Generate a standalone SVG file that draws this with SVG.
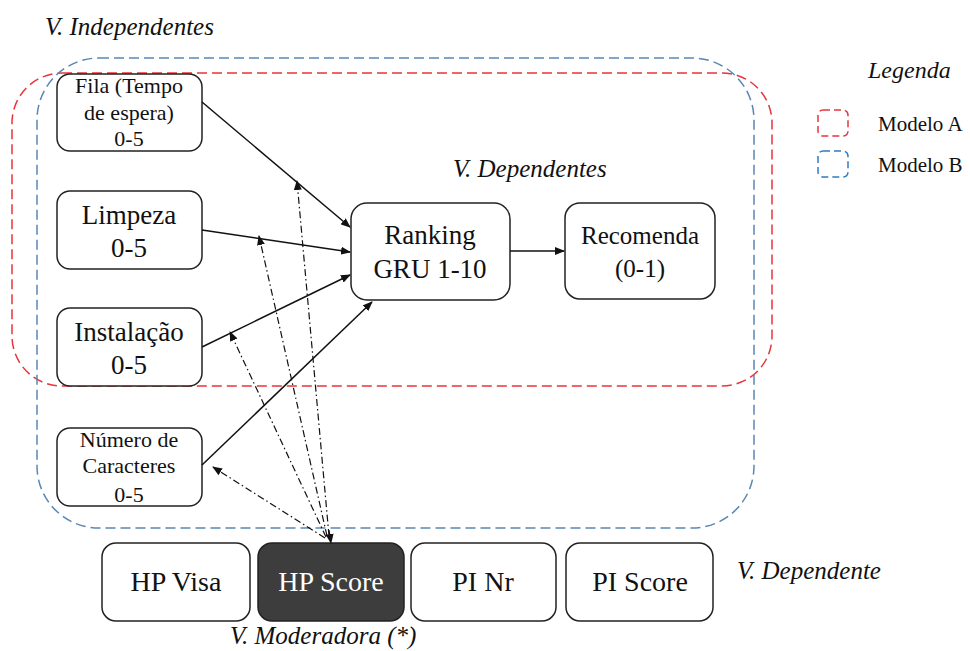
<svg xmlns="http://www.w3.org/2000/svg" width="970" height="651" viewBox="0 0 970 651">
<style>
.box{fill:#fff;stroke:#222;stroke-width:1.5}
.t{fill:#111}
.lbl{font-style:italic;fill:#111}
.solid{stroke:#111;stroke-width:1.5;fill:none}
.dd{stroke:#111;stroke-width:1.2;fill:none;stroke-dasharray:7,3,1.5,3}
.red{fill:none;stroke:#e8343a;stroke-width:1.5;stroke-dasharray:10,5}
.blue{fill:none;stroke:#5a86b4;stroke-width:1.5;stroke-dasharray:10,5}
</style>
<defs>
<marker id="ah" markerWidth="10" markerHeight="8" refX="9" refY="4" orient="auto" markerUnits="userSpaceOnUse">
<path d="M0,0 L10,4 L0,8 z" fill="#111"/>
</marker>
</defs>
<rect width="970" height="651" fill="#fff"/>
<g id="modelA"><rect class="red" x="12" y="73" width="760" height="313" rx="50"/></g>
<g id="modelB"><rect class="blue" x="37" y="58" width="717" height="470" rx="62"/></g>

<g font-family="'Liberation Serif', 'Times New Roman', serif">
<text class="lbl" x="45" y="35" font-size="25">V. Independentes</text>
<text class="lbl" x="453" y="177" font-size="25">V.  Dependentes</text>
<text class="lbl" x="737" y="579" font-size="25">V.  Dependente</text>
<text class="lbl" x="230" y="644" font-size="25">V. Moderadora (*)</text>

<g id="legend">
<text class="lbl" x="868" y="78" font-size="24">Legenda</text>
<rect class="red" x="818" y="110" width="30" height="26" rx="5" style="stroke-dasharray:7,4"/>
<rect class="blue" x="818" y="151" width="30" height="26" rx="5" style="stroke-dasharray:7,4;stroke:#2f7bc4"/>
<text class="t" x="878" y="131" font-size="21">Modelo A</text>
<text class="t" x="878" y="172" font-size="21">Modelo B</text>
</g>

<g text-anchor="middle">
<g id="fila"><rect class="box" x="57" y="74" width="145" height="77" rx="13"/>
<text class="t" x="129" y="93" font-size="22">Fila (Tempo</text>
<text class="t" x="129" y="120" font-size="22">de espera)</text>
<text class="t" x="129" y="146" font-size="22">0-5</text></g>
<g id="limpeza"><rect class="box" x="57" y="191" width="145" height="78" rx="13"/>
<text class="t" x="129" y="224" font-size="27">Limpeza</text>
<text class="t" x="129" y="257" font-size="27">0-5</text></g>
<g id="instalacao"><rect class="box" x="57" y="308" width="145" height="78" rx="13"/>
<text class="t" x="129" y="341" font-size="27">Instalação</text>
<text class="t" x="129" y="374" font-size="27">0-5</text></g>
<g id="numero"><rect class="box" x="57" y="428" width="145" height="78" rx="13"/>
<text class="t" x="129" y="447" font-size="22">Número de</text>
<text class="t" x="129" y="473" font-size="22">Caracteres</text>
<text class="t" x="129" y="502" font-size="22">0-5</text></g>
<g id="ranking"><rect class="box" x="351" y="203" width="159" height="97" rx="16"/>
<text class="t" x="430" y="244" font-size="27">Ranking</text>
<text class="t" x="430" y="278" font-size="27">GRU 1-10</text></g>
<g id="recomenda"><rect class="box" x="565" y="203" width="150" height="96" rx="15"/>
<text class="t" x="640" y="244" font-size="25">Recomenda</text>
<text class="t" x="640" y="277" font-size="25">(0-1)</text></g>

<g id="hpvisa"><rect class="box" x="102" y="543" width="148" height="78" rx="14"/>
<text class="t" x="176" y="591" font-size="28">HP Visa</text></g>
<g id="hpscore"><rect x="258" y="543" width="146" height="78" rx="14" fill="#3d3d3d" stroke="#222" stroke-width="1.5"/>
<text x="331" y="591" font-size="28" fill="#fff">HP Score</text></g>
<g id="pinr"><rect class="box" x="411" y="543" width="145" height="78" rx="14"/>
<text class="t" x="483" y="591" font-size="28">PI Nr</text></g>
<g id="piscore"><rect class="box" x="566" y="543" width="147" height="78" rx="14"/>
<text class="t" x="640" y="591" font-size="28">PI Score</text></g>
</g>
</g>

<g id="connectors">
<line class="solid" x1="202" y1="102" x2="350" y2="227" marker-end="url(#ah)"/>
<line class="solid" x1="202" y1="230" x2="350" y2="252" marker-end="url(#ah)"/>
<line class="solid" x1="202" y1="347" x2="350" y2="275" marker-end="url(#ah)"/>
<line class="solid" x1="202" y1="465" x2="372" y2="302" marker-end="url(#ah)"/>
<line class="solid" x1="510" y1="251" x2="564" y2="251" marker-end="url(#ah)"/>
<line class="dd" x1="329" y1="536" x2="297" y2="181" marker-end="url(#ah)"/>
<line class="dd" x1="327" y1="536" x2="259" y2="236" marker-end="url(#ah)"/>
<line class="dd" x1="326" y1="537" x2="230" y2="332" marker-end="url(#ah)"/>
<line class="dd" x1="325" y1="538" x2="213" y2="467" marker-end="url(#ah)"/>
<line class="dd" x1="329" y1="530" x2="331" y2="543" marker-end="url(#ah)"/>
</g>
</svg>
